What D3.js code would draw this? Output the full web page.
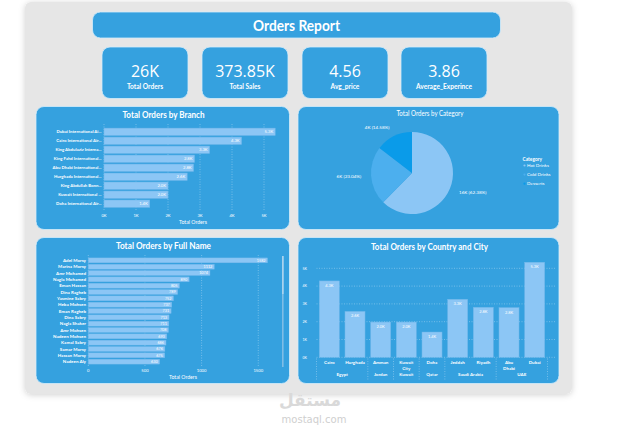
<!DOCTYPE html>
<html>
<head>
<meta charset="utf-8">
<script src="https://cdn.jsdelivr.net/npm/d3@7"></script>
<style>
	body { margin: 0; background: #fff; }
	svg { display: block; font-family: Lato, 'Open Sans', sans-serif; }
</style>
</head>
<body>
<svg id="dashboard" width="629" height="434"></svg>
<script>
// ---- data ----
var kpiValues = ['26K', '373.85K', '4.56', '3.86'];
var kpiLabels = ['Total Orders', 'Total Sales', 'Avg_price', 'Average_Experince'];

var branchNames = ['Dubai International Ai...', 'Cairo International Air...', 'King Abdulaziz Interna...',
	'King Fahd International...', 'Abu Dhabi International...', 'Hurghada International...',
	'King Abdullah Bonn...', 'Kuwait International ...', 'Doha International Air...'];
var branchOrders = [5350, 4300, 3300, 2830, 2800, 2600, 2000, 2000, 1430];
var branchTicks = [0, 1000, 2000, 3000, 4000, 5000];

var categoryNames = ['Hot Drinks', 'Cold Drinks', 'Desserts'];
var categoryOrders = [16300, 6020, 3810];

var customerNames = ['Adel Morsy', 'Marina Morsy', 'Amr Mohamed', 'Nagla Mohamed', 'Eman Hassan',
	'Dina Ragheb', 'Yasmine Sabry', 'Heba Mohsen', 'Eman Ragheb', 'Dina Sabry', 'Nagla Shaker',
	'Amr Mohsen', 'Nadeen Mohsen', 'Kamal Sabry', 'Samar Morsy', 'Hassan Morsy', 'Nadeen Aly'];
var customerOrders = [1582, 1112, 1074, 890, 805, 789, 752, 737, 731, 713, 711, 708, 693, 686, 676, 675, 630];
var customerTicks = [0, 500, 1000, 1500];

var cityNames = ['Cairo', 'Hurghada', 'Amman', 'Kuwait City', 'Doha', 'Jeddah', 'Riyadh', 'Abu Dhabi', 'Dubai'];
var cityCountries = ['Egypt', 'Egypt', 'Jordan', 'Kuwait', 'Qatar', 'Saudi Arabia', 'Saudi Arabia', 'UAE', 'UAE'];
var cityOrders = [4290, 2580, 1980, 1980, 1420, 3260, 2810, 2790, 5340];
var cityTicks = [0, 1000, 2000, 3000, 4000, 5000];

(function() {

	'use strict';

	var svg = d3.select('#dashboard'),
		blue = '#35a1df',
		barColor = '#8cc6f5',
		kFormat = function(d) { return d3.format('.1f')(d / 1000) + 'K'; },
		tickK = function(d) { return (d / 1000) + 'K'; };

	// shadow for the grey canvas
	var defs = svg.append('defs');
	defs.append('filter')
		.attr('id', 'shadow')
		.attr('x', '-10%').attr('y', '-10%').attr('width', '120%').attr('height', '120%')
		.append('feDropShadow')
		.attr('dx', 0).attr('dy', 1)
		.attr('stdDeviation', 3)
		.attr('flood-color', '#000')
		.attr('flood-opacity', 0.18);

	svg.append('rect')
		.attr('x', 25).attr('y', 2)
		.attr('width', 547).attr('height', 392)
		.attr('rx', 6)
		.attr('fill', '#e6e6e6')
		.attr('filter', 'url(#shadow)');

	var card = function(x, y, w, h, r) {
		return svg.append('rect')
			.attr('x', x).attr('y', y)
			.attr('width', w).attr('height', h)
			.attr('rx', r)
			.attr('fill', blue)
			.attr('stroke', '#d4ecfa')
			.attr('stroke-width', 0.8);
	};

	var panelTitle = function(text, x, y, size, len, weight) {
		return svg.append('text')
			.attr('x', x).attr('y', y)
			.attr('text-anchor', 'middle')
			.attr('fill', '#fff')
			.attr('font-size', size)
			.attr('font-weight', weight || 700)
			.attr('textLength', len)
			.attr('lengthAdjust', 'spacingAndGlyphs')
			.text(text);
	};

	// ---- header ----
	card(92.5, 12, 408, 26, 8);
	panelTitle('Orders Report', 296.5, 30.5, 14.5, 87);

	// ---- KPI cards ----
	var kpiX = [102, 202, 302, 401];
	kpiValues.forEach(function(v, i) {
		card(kpiX[i], 47, 86, 51.5, 8);
		svg.append('text')
			.attr('x', kpiX[i] + 43).attr('y', 77)
			.attr('text-anchor', 'middle')
			.attr('fill', '#fff')
			.attr('font-family', "'Open Sans', sans-serif")
			.attr('font-size', 16)
			.text(v);
		svg.append('text')
			.attr('x', kpiX[i] + 43).attr('y', 88.5)
			.attr('text-anchor', 'middle')
			.attr('fill', '#fff')
			.attr('font-size', 6.6)
			.attr('font-weight', 700)
			.text(kpiLabels[i]);
	});

	// ---- Total Orders by Branch ----
	card(36, 106.5, 253.5, 123, 8);
	panelTitle('Total Orders by Branch', 163.5, 118, 9, 82);

	var bx = d3.scaleLinear().domain([0, 5500]).range([104, 280]),
		by = d3.scaleBand().domain(branchNames).range([126.5, 209]).padding(0.18);

	var branchG = svg.append('g');
	branchG.selectAll('.grid')
		.data(branchTicks)
		.enter().append('line')
		.attr('x1', bx).attr('x2', bx)
		.attr('y1', 124).attr('y2', 211)
		.attr('stroke', '#9fd2f2')
		.attr('stroke-width', 0.6)
		.attr('stroke-dasharray', '1,1.5');

	branchG.selectAll('.bar')
		.data(branchOrders)
		.enter().append('rect')
		.attr('x', bx(0))
		.attr('y', function(d, i) { return by(branchNames[i]); })
		.attr('width', function(d) { return bx(d) - bx(0); })
		.attr('height', by.bandwidth())
		.attr('fill', barColor)
		.attr('stroke', '#6fb6ea')
		.attr('stroke-width', 0.5);

	branchG.selectAll('.val')
		.data(branchOrders)
		.enter().append('text')
		.attr('x', function(d) { return bx(d) - 2; })
		.attr('y', function(d, i) { return by(branchNames[i]) + by.bandwidth() / 2 + 1.5; })
		.attr('text-anchor', 'end')
		.attr('fill', '#fff')
		.attr('font-size', 4.2)
		.text(kFormat);

	branchG.selectAll('.name')
		.data(branchNames)
		.enter().append('text')
		.attr('x', 101.5)
		.attr('y', function(d) { return by(d) + by.bandwidth() / 2 + 1.5; })
		.attr('text-anchor', 'end')
		.attr('fill', '#fff')
		.attr('font-size', 4.3)
		.attr('font-weight', 700)
		.text(function(d) { return d; });

	branchG.selectAll('.tick')
		.data(branchTicks)
		.enter().append('text')
		.attr('x', bx)
		.attr('y', 216.5)
		.attr('text-anchor', 'middle')
		.attr('fill', '#fff')
		.attr('font-size', 4.2)
		.text(tickK);

	svg.append('text')
		.attr('x', 193).attr('y', 224)
		.attr('text-anchor', 'middle')
		.attr('fill', '#fff')
		.attr('font-size', 5.2)
		.text('Total Orders');

	// ---- Total Orders by Category ----
	card(298, 106.5, 261, 123, 8);
	panelTitle('Total Orders by Category', 430, 115.5, 7, 67, 400);

	var pieColors = d3.scaleOrdinal().domain(categoryNames).range(['#8cc6f5', '#4cafee', '#0a9be9']),
		total = d3.sum(categoryOrders),
		pie = d3.pie().sort(null).value(function(d) { return d; }),
		arcs = pie(categoryOrders),
		r = 41,
		arc = d3.arc().innerRadius(0).outerRadius(r),
		labelArc = d3.arc().innerRadius(r * 1.24).outerRadius(r * 1.24);

	var pieG = svg.append('g').attr('transform', 'translate(412,173)');
	pieG.selectAll('path')
		.data(arcs)
		.enter().append('path')
		.attr('d', arc)
		.attr('fill', function(d, i) { return pieColors(categoryNames[i]); });

	pieG.selectAll('.lbl')
		.data(arcs)
		.enter().append('text')
		.attr('transform', function(d) { return 'translate(' + labelArc.centroid(d) + ')'; })
		.attr('dy', 1.8)
		.attr('text-anchor', function(d) {
			return (d.startAngle + d.endAngle) / 2 > Math.PI ? 'end' : 'start';
		})
		.attr('fill', '#fff')
		.attr('font-size', 4.6)
		.text(function(d) {
			return Math.round(d.value / 1000) + 'K (' + d3.format('.2f')(d.value / total * 100) + '%)';
		});

	var legend = svg.append('g');
	legend.append('text')
		.attr('x', 522.5).attr('y', 161)
		.attr('fill', '#fff')
		.attr('font-size', 4.8)
		.attr('font-weight', 700)
		.text('Category');
	var item = legend.selectAll('.item')
		.data(categoryNames)
		.enter().append('g')
		.attr('transform', function(d, i) { return 'translate(524.5,' + (167 + i * 9.1) + ')'; });
	item.append('circle')
		.attr('cx', 0).attr('cy', -1.5)
		.attr('r', 1.1)
		.attr('fill', function(d) { return pieColors(d); });
	item.append('text')
		.attr('x', 2.5).attr('y', 0)
		.attr('fill', '#fff')
		.attr('font-size', 4.6)
		.text(function(d) { return d; });

	// ---- Total Orders by Full Name ----
	card(36, 237.5, 253.5, 146, 8);
	panelTitle('Total Orders by Full Name', 163.5, 249, 9, 95);

	var cx = d3.scaleLinear().domain([0, 1600]).range([88.3, 269.6]),
		cy = d3.scaleBand().domain(customerNames).range([256.5, 365.5]).padding(0.22);

	var nameG = svg.append('g');
	nameG.selectAll('.grid')
		.data(customerTicks)
		.enter().append('line')
		.attr('x1', cx).attr('x2', cx)
		.attr('y1', 255).attr('y2', 367)
		.attr('stroke', '#9fd2f2')
		.attr('stroke-width', 0.6)
		.attr('stroke-dasharray', '1,1.5');

	nameG.selectAll('.bar')
		.data(customerOrders)
		.enter().append('rect')
		.attr('x', cx(0))
		.attr('y', function(d, i) { return cy(customerNames[i]); })
		.attr('width', function(d) { return cx(d) - cx(0); })
		.attr('height', cy.bandwidth())
		.attr('fill', barColor)
		.attr('stroke', '#6fb6ea')
		.attr('stroke-width', 0.4);

	nameG.selectAll('.val')
		.data(customerOrders)
		.enter().append('text')
		.attr('x', function(d) { return cx(d) - 2; })
		.attr('y', function(d, i) { return cy(customerNames[i]) + cy.bandwidth() / 2 + 1.4; })
		.attr('text-anchor', 'end')
		.attr('fill', '#fff')
		.attr('font-size', 3.8)
		.text(function(d) { return d; });

	nameG.selectAll('.name')
		.data(customerNames)
		.enter().append('text')
		.attr('x', 86)
		.attr('y', function(d) { return cy(d) + cy.bandwidth() / 2 + 1.6; })
		.attr('text-anchor', 'end')
		.attr('fill', '#fff')
		.attr('font-size', 4.5)
		.attr('font-weight', 700)
		.text(function(d) { return d; });

	nameG.selectAll('.tick')
		.data(customerTicks)
		.enter().append('text')
		.attr('x', cx)
		.attr('y', 372)
		.attr('text-anchor', 'middle')
		.attr('fill', '#fff')
		.attr('font-size', 4.2)
		.text(function(d) { return d; });

	svg.append('text')
		.attr('x', 183).attr('y', 379)
		.attr('text-anchor', 'middle')
		.attr('fill', '#fff')
		.attr('font-size', 5.2)
		.text('Total Orders');

	// scrollbar
	svg.append('rect')
		.attr('x', 282).attr('y', 256).attr('width', 1.6).attr('height', 111)
		.attr('fill', '#7fbde6');
	svg.append('rect')
		.attr('x', 282).attr('y', 256).attr('width', 1.6).attr('height', 38)
		.attr('fill', '#a9d3ee');

	// ---- Total Orders by Country and City ----
	card(298, 237.5, 261, 146, 8);
	panelTitle('Total Orders by Country and City', 429.5, 249.5, 9, 117);

	var gx = d3.scaleBand().domain(cityNames).range([316.5, 547.5]).paddingInner(0.22).paddingOuter(0.11),
		gy = d3.scaleLinear().domain([0, 5000]).range([357.3, 268.3]);

	var cityG = svg.append('g');
	cityG.selectAll('.grid')
		.data(cityTicks)
		.enter().append('line')
		.attr('x1', 316.5).attr('x2', 556)
		.attr('y1', gy).attr('y2', gy)
		.attr('stroke', '#9fd2f2')
		.attr('stroke-width', 0.6)
		.attr('stroke-dasharray', '1,1.5');

	cityG.selectAll('.ytick')
		.data(cityTicks)
		.enter().append('text')
		.attr('x', 302.5)
		.attr('y', function(d) { return gy(d) + 1.3; })
		.attr('fill', '#fff')
		.attr('font-size', 3.6)
		.text(tickK);

	cityG.selectAll('.bar')
		.data(cityOrders)
		.enter().append('rect')
		.attr('x', function(d, i) { return gx(cityNames[i]); })
		.attr('y', function(d) { return gy(d); })
		.attr('width', gx.bandwidth())
		.attr('height', function(d) { return gy(0) - gy(d); })
		.attr('fill', barColor)
		.attr('stroke', '#6fb6ea')
		.attr('stroke-width', 0.5);

	cityG.selectAll('.val')
		.data(cityOrders)
		.enter().append('text')
		.attr('x', function(d, i) { return gx(cityNames[i]) + gx.bandwidth() / 2; })
		.attr('y', function(d) { return gy(d) + 6; })
		.attr('text-anchor', 'middle')
		.attr('fill', '#fff')
		.attr('font-size', 4)
		.text(kFormat);

	// city labels, two-word names wrap
	cityG.selectAll('.city')
		.data(cityNames)
		.enter().append('text')
		.attr('x', function(d) { return gx(d) + gx.bandwidth() / 2; })
		.attr('y', 363.5)
		.attr('text-anchor', 'middle')
		.attr('fill', '#fff')
		.attr('font-size', 4.5)
		.attr('font-weight', 700)
		.each(function(d) {
			var words = d.split(' '),
				t = d3.select(this);
			words.forEach(function(w, i) {
				t.append('tspan')
					.attr('x', gx(d) + gx.bandwidth() / 2)
					.attr('dy', i === 0 ? 0 : 6.8)
					.text(w);
			});
		});

	// country groups
	var groups = [];
	cityCountries.forEach(function(c, i) {
		var last = groups[groups.length - 1];
		if (last && last.name === c) {
			last.end = i;
		} else {
			groups.push({ name: c, start: i, end: i });
		}
	});
	var half = gx.step() * gx.paddingInner() / 2;

	cityG.selectAll('.country')
		.data(groups)
		.enter().append('text')
		.attr('x', function(d) {
			return (gx(cityNames[d.start]) + gx(cityNames[d.end]) + gx.bandwidth()) / 2;
		})
		.attr('y', 376)
		.attr('text-anchor', 'middle')
		.attr('fill', '#fff')
		.attr('font-size', 4.5)
		.attr('font-weight', 700)
		.text(function(d) { return d.name; });

	var seps = [gx(cityNames[0]) - half].concat(groups.map(function(g) {
		return gx(cityNames[g.end]) + gx.bandwidth() + half;
	}));
	cityG.selectAll('.sep')
		.data(seps)
		.enter().append('line')
		.attr('x1', function(d) { return d; }).attr('x2', function(d) { return d; })
		.attr('y1', 358.5).attr('y2', 379.5)
		.attr('stroke', '#9fd2f2')
		.attr('stroke-width', 0.6)
		.attr('stroke-dasharray', '1,1.5');

	// ---- watermark ----
	svg.append('text')
		.attr('x', 310).attr('y', 406)
		.attr('text-anchor', 'middle')
		.attr('fill', '#d9d9d9')
		.attr('font-family', "'DejaVu Sans', sans-serif")
		.attr('font-size', 17)
		.attr('font-weight', 700)
		.text('مستقل');
	svg.append('text')
		.attr('x', 314).attr('y', 422.5)
		.attr('text-anchor', 'middle')
		.attr('fill', '#cfcfcf')
		.attr('font-family', "'DejaVu Sans', sans-serif")
		.attr('font-size', 10)
		.text('mostaql.com');

})();
</script>
</body>
</html>
